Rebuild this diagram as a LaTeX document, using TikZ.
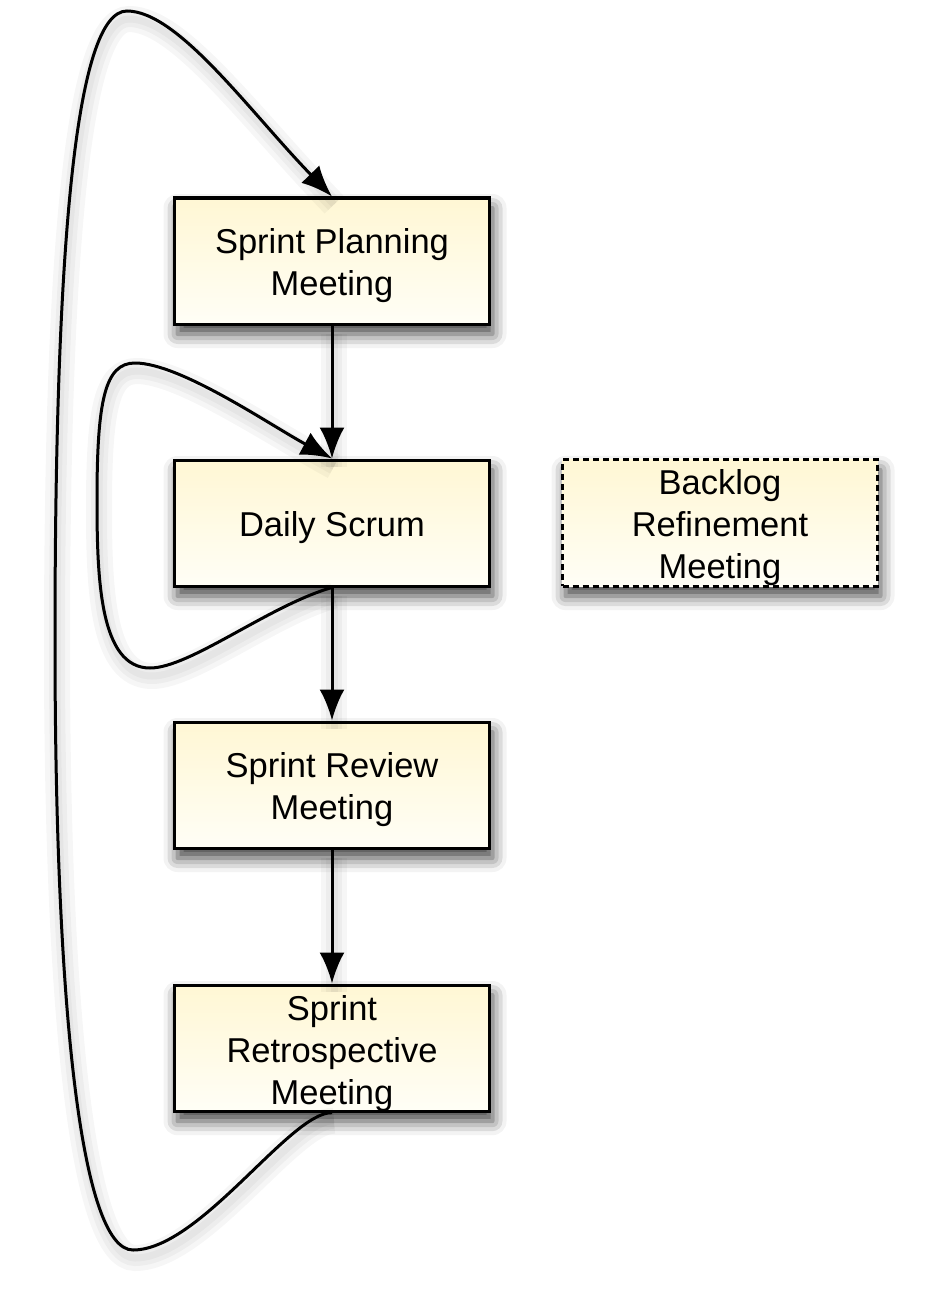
\documentclass[tikz,border=0pt]{standalone}
\usepackage{fontspec}
\setmainfont{Liberation Sans}
\usetikzlibrary{positioning,arrows.meta,shadows.blur}
\definecolor{boxtop}{RGB}{255,247,212}
\definecolor{boxbot}{RGB}{255,254,246}
\newcommand{\toprow}{\rule{0pt}{35pt}}
\tikzset{%
  every meeting/.style={
    rectangle,
    draw=black,
    line width=3pt,
    top color=boxtop,
    bottom color=boxbot,
    minimum width=315pt,
    minimum height=126pt,
    inner sep=0pt,
    align=center,
    blur shadow={shadow xshift=3pt,shadow yshift=-10pt,shadow blur radius=14pt,shadow opacity=75}
  },
  meeting optional/.style={
    every meeting,
    dash pattern=on 6pt off 4pt
  },
  soft shadow/.style={
    preaction={-,draw=black,opacity=0.035,line width=26pt,transform canvas={shift={(2pt,-8pt)}}},
    preaction={-,draw=black,opacity=0.035,line width=16pt,transform canvas={shift={(2pt,-8pt)}}},
    preaction={-,draw=black,opacity=0.035,line width=7pt,transform canvas={shift={(2pt,-8pt)}}}
  },
}

\begin{document}
\begin{tikzpicture}[x=1pt,y=-1pt,node distance=133pt,>={Latex[length=31pt,width=25pt]},font=\fontsize{34.5}{42}\selectfont]
        \tikzstyle{flow}=[line width=3pt,draw=black,->,soft shadow]
        \useasboundingbox (0,0) rectangle (942,1292);

        \node[every meeting] (plan) at (332,261) {\toprow Sprint Planning\\Meeting};
        \node[every meeting,below=of plan] (daily) {\toprow Daily Scrum};
        \node[every meeting,below=of daily] (review) {\toprow Sprint Review\\Meeting};
        \node[every meeting,below=134pt of review] (retro) {\toprow Sprint\\Retrospective\\Meeting};
        \node[meeting optional,right=70pt of daily] (backlog) {\toprow Backlog\\Refinement\\Meeting};

        \draw[flow] (plan) -- (daily);
        \draw[flow] (daily) -- (review);
        \draw[flow] (review) -- (retro);

        % the daily loop
        \draw[flow] (daily.south) .. controls (270,605) and (190,668) .. (150,668)
            .. controls (100,668) and (97,580) .. (97,500)
            .. controls (97,400) and (105,363) .. (135,363)
            .. controls (180,363) and (270,425) .. (daily.north);
        % back to the next sprint
        \draw[flow] (retro.south) .. controls (290,1112) and (200,1250) .. (133,1250)
            .. controls (80,1250) and (55,1000) .. (55,640)
            .. controls (55,250) and (75,11) .. (127,11)
            .. controls (178,11) and (250,112) .. (plan.north);
    \end{tikzpicture}
\end{document}
